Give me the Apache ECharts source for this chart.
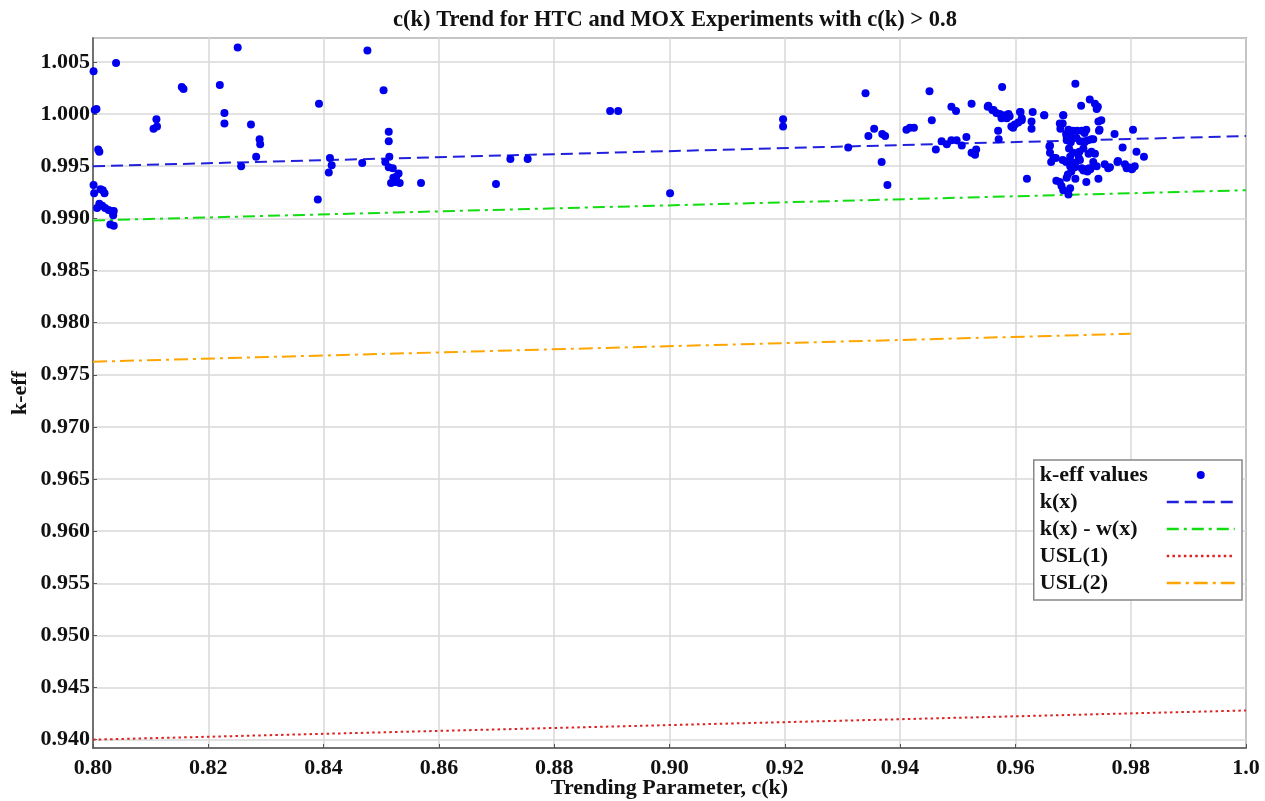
<!DOCTYPE html>
<html>
<head>
<meta charset="utf-8">
<script src="https://cdn.jsdelivr.net/npm/echarts@6/dist/echarts.min.js"></script>
<style>
  html, body { margin: 0; padding: 0; background: #fff; }
  #chart { width: 1265px; height: 801px; }
</style>
</head>
<body>
<div id="chart"></div>
<script>
const xTicks = [0.80, 0.82, 0.84, 0.86, 0.88, 0.90, 0.92, 0.94, 0.96, 0.98, 1.0];

// k-eff values: [c(k), k-eff]
const keffPoints = [
  [0.8001,1.0041],[0.8003,1.0004],[0.8006,1.0005],[0.8009,0.9966],[0.8011,0.9964],
  [0.8001,0.9932],[0.8002,0.9924],[0.8013,0.9928],[0.8017,0.9927],[0.8020,0.9924],
  [0.8007,0.9910],[0.8011,0.9914],[0.8016,0.9912],[0.8021,0.9910],[0.8027,0.9908],
  [0.8032,0.9907],[0.8036,0.9907],[0.8035,0.9903],[0.8030,0.9894],[0.8036,0.9893],
  [0.8040,1.0049],[0.8105,0.9986],[0.8111,0.9988],[0.8110,0.9995],[0.8154,1.0026],
  [0.8157,1.0024],[0.8220,1.0028],[0.8228,1.0001],[0.8228,0.9991],[0.8251,1.0064],
  [0.8257,0.9950],[0.8274,0.9990],[0.8289,0.9976],[0.8290,0.9971],[0.8283,0.9959],
  [0.8392,1.0010],[0.8390,0.9918],[0.8411,0.9958],[0.8414,0.9951],[0.8409,0.9944],
  [0.8467,0.9953],[0.8476,1.0061],[0.8504,1.0023],[0.8513,0.9983],[0.8513,0.9974],
  [0.8514,0.9959],[0.8507,0.9954],[0.8513,0.9949],[0.8520,0.9948],[0.8517,0.9934],
  [0.8524,0.9935],[0.8530,0.9943],[0.8532,0.9934],[0.8526,0.9940],[0.8521,0.9939],
  [0.8569,0.9934],[0.8699,0.9933],[0.8724,0.9957],[0.8754,0.9957],[0.8897,1.0003],
  [0.8911,1.0003],[0.9001,0.9924],[0.9197,0.9995],[0.9197,0.9988],
  [0.9310,0.9968],[0.9340,1.0020],[0.9345,0.9979],[0.9355,0.9986],[0.9369,0.9981],
  [0.9374,0.9979],[0.9368,0.9954],[0.9378,0.9932],[0.9411,0.9985],[0.9417,0.9987],
  [0.9424,0.9987],[0.9451,1.0022],[0.9455,0.9994],[0.9462,0.9966],[0.9472,0.9974],
  [0.9481,0.9971],[0.9489,0.9975],[0.9498,0.9975],[0.9507,0.9970],[0.9515,0.9978],
  [0.9489,1.0007],[0.9497,1.0003],[0.9524,1.0010],[0.9524,0.9963],[0.9530,0.9961],
  [0.9532,0.9966],[0.9552,1.0007],[0.9553,1.0008],[0.9560,1.0004],[0.9562,1.0004],
  [0.9567,1.0001],[0.9573,1.0000],[0.9582,0.9999],[0.9588,1.0000],[0.9590,0.9998],
  [0.9577,1.0026],[0.9570,0.9984],[0.9571,0.9976],[0.9576,0.9996],[0.9580,0.9998],
  [0.9585,0.9996],[0.9593,0.9988],[0.9599,0.9990],[0.9605,0.9992],[0.9611,0.9994],
  [0.9611,0.9996],[0.9596,0.9987],[0.9608,1.0002],[0.9609,1.0002],[0.9630,1.0002],
  [0.9628,0.9993],[0.9628,0.9986],[0.9650,0.9999],[0.9683,0.9999],[0.9704,1.0029],
  [0.9714,1.0008],[0.9729,1.0014],[0.9738,1.0010],[0.9743,1.0007],[0.9741,1.0005],
  [0.9749,0.9994],[0.9744,0.9993],[0.9745,0.9984],[0.9746,0.9985],[0.9772,0.9981],
  [0.9804,0.9985],[0.9786,0.9968],[0.9810,0.9964],[0.9823,0.9959],[0.9778,0.9955],
  [0.9790,0.9952],[0.9793,0.9948],[0.9803,0.9948],[0.9807,0.9950],[0.9802,0.9947],
  [0.9796,0.9949],[0.9677,0.9991],[0.9678,0.9986],[0.9682,0.9991],[0.9688,0.9981],
  [0.9692,0.9985],[0.9695,0.9984],[0.9700,0.9984],[0.9707,0.9984],[0.9715,0.9984],
  [0.9723,0.9985],[0.9720,0.9982],[0.9720,0.9974],[0.9735,0.9976],[0.9689,0.9978],
  [0.9697,0.9978],[0.9706,0.9977],[0.9712,0.9974],[0.9720,0.9973],[0.9726,0.9975],
  [0.9732,0.9976],[0.9689,0.9975],[0.9696,0.9973],[0.9659,0.9969],[0.9660,0.9963],
  [0.9662,0.9954],[0.9670,0.9958],[0.9660,0.9970],[0.9666,0.9958],[0.9620,0.9938],
  [0.9682,0.9956],[0.9688,0.9954],[0.9695,0.9959],[0.9700,0.9963],[0.9693,0.9967],
  [0.9709,0.9963],[0.9711,0.9964],[0.9718,0.9967],[0.9712,0.9956],[0.9710,0.9958],
  [0.9727,0.9962],[0.9732,0.9964],[0.9738,0.9962],[0.9735,0.9954],[0.9741,0.9950],
  [0.9704,0.9953],[0.9700,0.9953],[0.9703,0.9949],[0.9715,0.9948],[0.9723,0.9947],
  [0.9728,0.9948],[0.9730,0.9947],[0.9725,0.9945],[0.9718,0.9946],[0.9695,0.9950],
  [0.9697,0.9945],[0.9691,0.9942],[0.9689,0.9939],[0.9671,0.9936],[0.9677,0.9935],
  [0.9680,0.9931],[0.9683,0.9927],[0.9695,0.9929],[0.9692,0.9923],[0.9704,0.9938],
  [0.9723,0.9935],[0.9744,0.9938],[0.9761,0.9948],[0.9755,0.9952],[0.9764,0.9949],
  [0.9777,0.9954],[0.9683,0.9999],[0.9650,0.9999]
];

// straight trend lines, end points
const trendX = [0.80, 1.00];
const kx = [0.9950, 0.9979];
const kxMinusWx = [0.9898, 0.9927];
const usl1 = [0.9400, 0.9428];
const usl2X = [0.80, 0.98];
const usl2 = [0.97625, 0.97893];

const legendNames = ['k-eff values', 'k(x)', 'k(x) - w(x)', 'USL(1)', 'USL(2)'];

const serif = '"Liberation Serif", "DejaVu Serif", serif';

function pairs(xs, ys) {
  return xs.map((x, i) => [x, ys[i]]);
}

function lineSeries(name, data, color, dash, width) {
  return {
    name: name,
    type: 'line',
    data: data,
    symbol: 'none',
    showSymbol: false,
    silent: true,
    itemStyle: { color: color },
    lineStyle: { color: color, width: width, type: dash },
    z: 3
  };
}

const chart = echarts.init(document.getElementById('chart'), null, { renderer: 'canvas' });

const option = {
  animation: false,
  backgroundColor: '#fff',
  title: {
    text: 'c(k) Trend for HTC and MOX Experiments with c(k) > 0.8',
    left: 670,
    textAlign: 'center',
    top: 4,
    textStyle: { fontFamily: serif, fontWeight: 'bold', fontSize: 22.5, color: '#111' }
  },
  grid: {
    left: 93,
    right: 19,
    top: 38,
    bottom: 53,
    outerBoundsMode: 'none',
    show: true,
    borderColor: '#666',
    borderWidth: 1.5
  },
  legend: {
    orient: 'vertical',
    right: 23,
    top: 460,
    align: 'right',
    itemWidth: 68,
    itemHeight: 8,
    itemGap: 5,
    padding: [4, 6, 6, 6],
    backgroundColor: '#fff',
    borderColor: '#888',
    borderWidth: 1.5,
    lineStyle: { width: 2.5 },
    formatter: function (name) { return '{t|' + name + '}'; },
    textStyle: {
      rich: {
        t: { fontFamily: serif, fontWeight: 'bold', fontSize: 22, color: '#111', width: 122, align: 'left' }
      }
    },
    data: legendNames.map(function (n, i) {
      return i === 0 ? { name: n } : { name: n, itemStyle: { color: 'rgba(0,0,0,0)', borderWidth: 0 } };
    })
  },
  xAxis: {
    type: 'value',
    min: xTicks[0],
    max: xTicks[xTicks.length - 1],
    interval: 0.02,
    name: 'Trending Parameter, c(k)',
    nameLocation: 'middle',
    nameGap: 29,
    nameMoveOverlap: false,
    nameTextStyle: { fontFamily: serif, fontWeight: 'bold', fontSize: 22, color: '#111' },
    axisLine: { lineStyle: { color: '#555', width: 1.5 } },
    axisTick: { inside: true, length: 4, lineStyle: { color: '#555' } },
    axisLabel: {
      fontFamily: serif, fontWeight: 'bold', fontSize: 22, color: '#111', margin: 9,
      formatter: function (v) { return Math.abs(v - 1) < 1e-9 ? '1.0' : v.toFixed(2); }
    },
    splitLine: { show: true, lineStyle: { color: '#d9d9d9', width: 1.5 } }
  },
  yAxis: {
    type: 'value',
    min: 0.9392,
    max: 1.0073,
    minInterval: 0.005,
    maxInterval: 0.005,
    name: 'k-eff',
    nameLocation: 'middle',
    nameGap: 62,
    nameMoveOverlap: false,
    nameTextStyle: { fontFamily: serif, fontWeight: 'bold', fontSize: 22, color: '#111' },
    axisLine: { lineStyle: { color: '#555', width: 1.5 } },
    axisTick: { inside: true, length: 4, lineStyle: { color: '#555' } },
    axisLabel: {
      fontFamily: serif, fontWeight: 'bold', fontSize: 22, color: '#111', margin: 3,
      showMinLabel: false, showMaxLabel: false,
      formatter: function (v) { return v.toFixed(3); }
    },
    splitLine: { show: true, lineStyle: { color: '#d9d9d9', width: 1.5 } }
  },
  series: [
    {
      name: 'k-eff values',
      type: 'scatter',
      data: keffPoints,
      symbol: 'circle',
      symbolSize: 8,
      itemStyle: { color: '#0000ee', opacity: 1 },
      z: 4
    },
    lineSeries('k(x)', pairs(trendX, kx), '#2020dd', [12, 6], 2),
    lineSeries('k(x) - w(x)', pairs(trendX, kxMinusWx), '#11dd11', [12, 5, 3, 5], 2),
    lineSeries('USL(1)', pairs(trendX, usl1), '#dd2222', [2.5, 3.2], 2),
    lineSeries('USL(2)', pairs(usl2X, usl2), '#ffa500', [14, 5, 3, 5], 2)
  ]
};

chart.setOption(option);
</script>
</body>
</html>
